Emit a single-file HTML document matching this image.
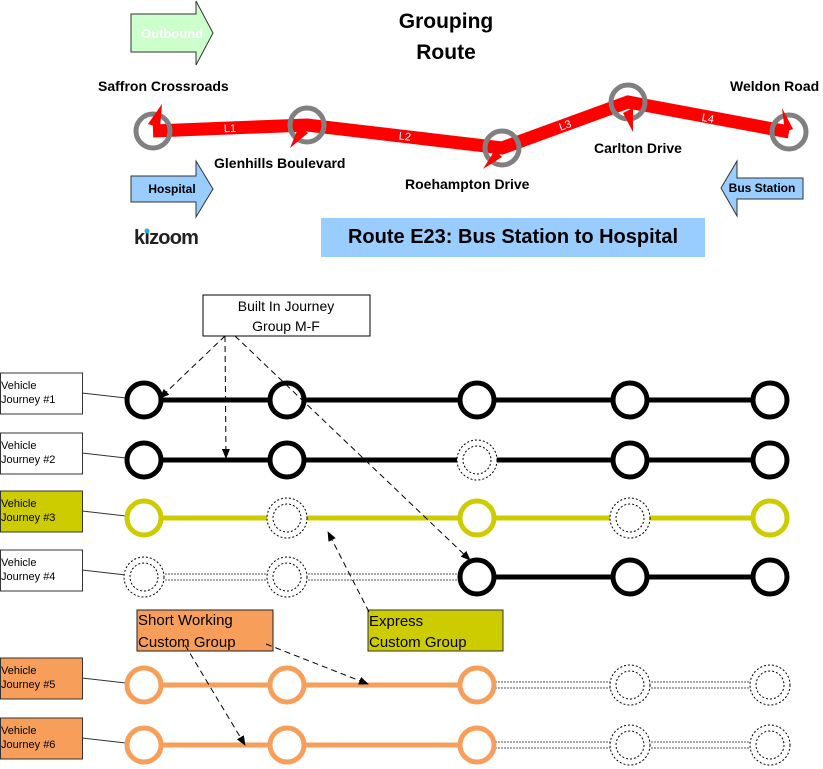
<!DOCTYPE html>
<html><head><meta charset="utf-8"><style>
body{margin:0;background:#fff;font-family:"Liberation Sans",Arial,sans-serif}
svg{display:block}
</style></head><body>
<svg id="s" width="823" height="769" viewBox="0 0 823 769" xmlns="http://www.w3.org/2000/svg" font-family="Liberation Sans, Arial, sans-serif">
<defs>
<marker id="ah" markerWidth="10" markerHeight="8" refX="9" refY="4" orient="auto" markerUnits="userSpaceOnUse"><path d="M0,0 L10,4 L0,8 z" fill="#000"/></marker>
</defs>
<g>
<path d="M131,14 H196 V1 L213,33 L196,65 V52 H131 Z" fill="#ccffcc" stroke="#333" stroke-width="1"/>
<text x="172" y="38" font-size="13" font-weight="bold" fill="#fff" text-anchor="middle">Outbound</text></g>
<text x="446" y="28" font-size="21" font-weight="bold" text-anchor="middle">Grouping</text>
<text x="446" y="59" font-size="21" font-weight="bold" text-anchor="middle">Route</text>
<g>
<polyline points="153,131 307,125 502,148 628,102 789,132" fill="none" stroke="#f00" stroke-width="13"/>
<g font-size="11" fill="#fff" text-anchor="middle">
<text x="230" y="132" transform="rotate(-2 230 128)">L1</text>
<text x="405" y="140" transform="rotate(7 405 136)">L2</text>
<text x="565" y="129" transform="rotate(-20 565 125)">L3</text>
<text x="708" y="122" transform="rotate(11 708 118)">L4</text></g>
<g fill="none" stroke="#808080" stroke-width="5">
<circle cx="153" cy="131" r="17"/><circle cx="307" cy="125" r="17"/><circle cx="502" cy="148" r="17"/><circle cx="628" cy="102" r="17"/><circle cx="789" cy="132" r="17"/></g>
<g fill="#f00">
<path d="M162,104 L148,124 L160,128 Z"/><path d="M290,148 L299,126 L308,133 Z"/><path d="M483,169 L495,150 L502,157 Z"/><path d="M633,132 L623,113 L633,108 Z"/><path d="M782,108 L793,129 L785,132 Z"/></g>
<g font-size="14" font-weight="bold">
<text x="98" y="91">Saffron Crossroads</text>
<text x="214" y="168">Glenhills Boulevard</text>
<text x="405" y="189">Roehampton Drive</text>
<text x="594" y="153">Carlton Drive</text>
<text x="730" y="91">Weldon Road</text></g></g>
<g>
<path d="M131,176 H196 V161 L213,189 L196,217 V202 H131 Z" fill="#99ccff" stroke="#333"/>
<text x="172" y="193" font-size="12" font-weight="bold" text-anchor="middle">Hospital</text></g>
<g>
<path d="M803,178 H737 V161 L721,188 L737,216 V199 H803 Z" fill="#99ccff" stroke="#333"/>
<text x="762" y="192" font-size="12" font-weight="bold" text-anchor="middle">Bus Station</text></g>
<g>
<text x="134" y="244" font-size="20" font-weight="bold" fill="#222" letter-spacing="-0.8">kizoom</text>
<circle cx="147" cy="231" r="2.5" fill="#29abe2"/></g>
<g>
<rect x="321" y="218" width="384" height="39" fill="#99ccff"/>
<text x="513" y="243" font-size="20" font-weight="bold" text-anchor="middle">Route E23: Bus Station to Hospital</text></g>

<g id="rows"></g>

<g>
<rect x="203" y="295" width="167" height="41" fill="#fff" stroke="#000"/>
<text x="286" y="311" font-size="14" text-anchor="middle">Built In Journey</text>
<text x="286" y="331" font-size="14" text-anchor="middle">Group M-F</text></g>
<g stroke="#000" stroke-dasharray="6,4" fill="none" marker-end="url(#ah)">
<line x1="225" y1="336" x2="160" y2="398"/>
<line x1="225" y1="336" x2="226" y2="458"/>
<line x1="235" y1="336" x2="470" y2="560"/></g>
<g>
<rect x="368" y="610" width="135" height="41" fill="#cccc00" stroke="#333"/>
<text x="369" y="626" font-size="15">Express</text>
<text x="369" y="647" font-size="15">Custom Group</text></g>
<line x1="369" y1="612" x2="328" y2="532" stroke="#000" stroke-dasharray="6,4" marker-end="url(#ah)"/>
<g>
<rect x="137" y="610" width="136" height="41" fill="#f79f5a" stroke="#222"/>
<text x="138" y="625" font-size="15">Short Working</text>
<text x="138" y="647" font-size="15">Custom Group</text></g>
<g stroke="#000" stroke-dasharray="6,4" fill="none" marker-end="url(#ah)">
<line x1="266" y1="644" x2="368" y2="684"/>
<line x1="185" y1="645" x2="245" y2="745"/></g>
</svg>
<script>
const stopsX=[144,287,477,630,770];
const rowY=[400,460,518,577,685,745];
const rowLabels=["Vehicle Journey #1","Vehicle Journey #2","Vehicle Journey #3","Vehicle Journey #4","Vehicle Journey #5","Vehicle Journey #6"];
const rowColor=["#000","#000","#cccc00","#000","#f79f5a","#f79f5a"];
const rowFill=["#fff","#fff","#cccc00","#fff","#f79f5a","#f79f5a"];
const rowStops=[[1,1,1,1,1],[1,1,0,1,1],[1,0,1,0,1],[0,0,1,1,1],[1,1,1,0,0],[1,1,1,0,0]];
const NS="http://www.w3.org/2000/svg";
const g=document.getElementById('rows');
function mk(t,a,p){const e=document.createElementNS(NS,t);for(const k in a)e.setAttribute(k,a[k]);(p||g).appendChild(e);return e;}
rowY.forEach((y,r)=>{
 const st=rowStops[r];const first=st.indexOf(1),last=st.lastIndexOf(1);
 const row=mk('g',{});
 
 
 const lab=mk('g',{},row);
 
 
 mk('rect',{x:0.5,y:y-27,width:82,height:41,fill:rowFill[r],stroke:'#333'},lab);
 const w=rowLabels[r].split(' ');
 const t1=mk('text',{x:1,y:y-11,'font-size':11},lab);t1.textContent=w[0];
 const t2=mk('text',{x:1,y:y+3,'font-size':11},lab);t2.textContent=w[1]+' '+w[2];
 mk('line',{x1:82,y1:y-7,x2:144,y2:y,stroke:'#333'},lab);
 for(let i=0;i<4;i++){
  const x1=stopsX[i],x2=stopsX[i+1];
  const seg=(i>=first&&i+1<=last)?mk('line',{x1:x1,y1:y,x2:x2,y2:y,stroke:rowColor[r],'stroke-width':5},row):
   mk('path',{d:`M${x1},${y-3}H${x2}M${x1},${y+3}H${x2}`,stroke:'#555','stroke-width':1,'stroke-dasharray':'2,1',fill:'none'},row);
  
  
 }
 stopsX.forEach((x,i)=>{
  let c;
  if(st[i]){c=mk('circle',{cx:x,cy:y,r:17,fill:'#fff',stroke:rowColor[r],'stroke-width':5},row);}
  else{c=mk('g',{},row);mk('circle',{cx:x,cy:y,r:20,fill:'#fff',stroke:'#000','stroke-dasharray':'2,2'},c);mk('circle',{cx:x,cy:y,r:14,fill:'none',stroke:'#000','stroke-dasharray':'2,2'},c);}
  
  
 });
});
</script>
</body></html>
